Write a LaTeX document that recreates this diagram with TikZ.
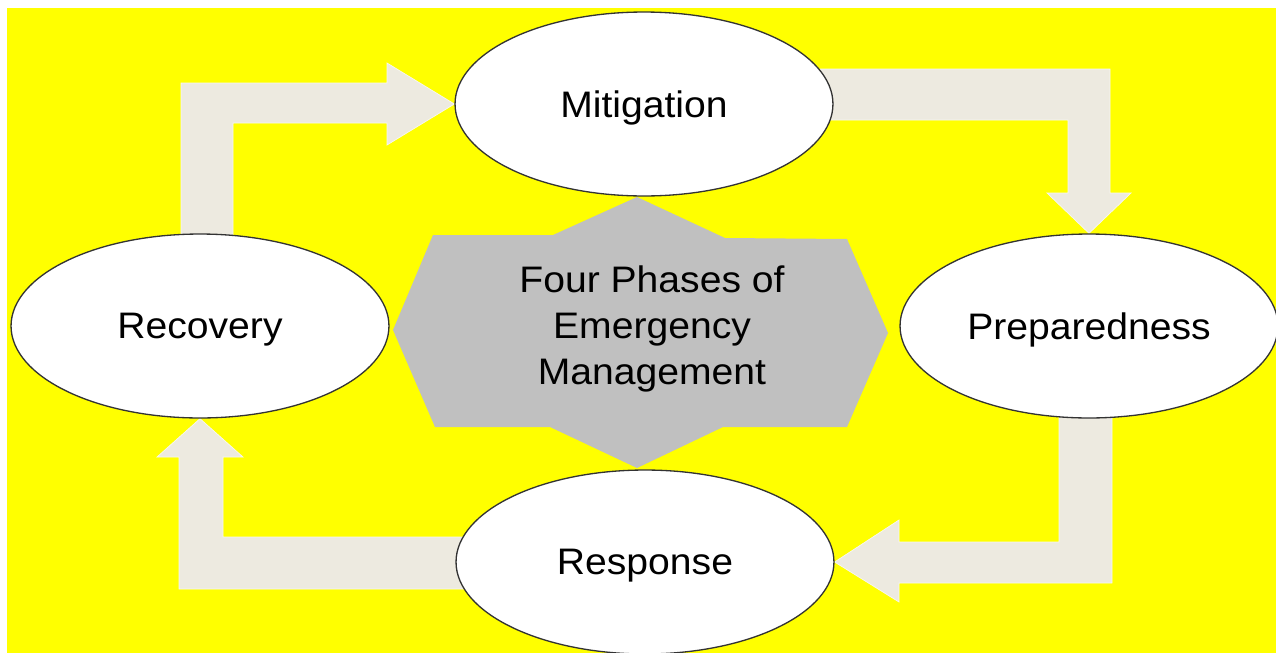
\documentclass[tikz,border=0pt]{standalone}
\usepackage{fontspec}
\setmainfont[FakeStretch=1.06]{Liberation Sans}
\usepackage{xcolor}
\usepackage{tikz}
\usetikzlibrary{shapes,shapes.geometric}
\usetikzlibrary{calc,positioning}
\definecolor{bgyellow}{RGB}{255,255,0}
\definecolor{flowgray}{RGB}{237,234,224}
\definecolor{coregray}{RGB}{192,192,192}
\pgfdeclarelayer{back}
\pgfdeclarelayer{flows}
\pgfsetlayers{back,flows,main}
\tikzset{
  phase/.style = {ellipse, draw=black!80, line width=0.75pt, fill=white, minimum width=7.56cm, minimum height=3.68cm, inner sep=0pt, text depth=0pt, font=\fontsize{21}{25}\selectfont},
  hub/.style = {align=center, inner sep=0pt, text centered, font=\fontsize{21}{26}\selectfont},
  flow/.style = {fill=flowgray, draw=flowgray!40!white, line width=0.4pt}
}

\begin{document}
\begin{tikzpicture}[x=0.02cm,y=-0.02cm]
			\useasboundingbox (0,0) rectangle (1276,653);
			\begin{pgfonlayer}{back}
				\fill[bgyellow] (7,8) rectangle (1276,653);
			\end{pgfonlayer}
			% the four phases
			\node[phase] (mit) at (644,104) {Mitigation};
			\node[phase] (prep) at (1089,326) {Preparedness};
			\node[phase] (resp) at (645,562) {Response};
			\node[phase] (rec) at (200,326) {Recovery};
			% centre
			\fill[coregray] (637,197) -- (725,238) -- (847,239) -- (888,333) -- (847,427) -- (723,427)
				-- (637,468) -- (550,427) -- (435,427) -- (393,330) -- (433,235) -- (553,235) -- cycle;
			\node[hub] (core) at (652,329) {Four Phases of\\Emergency\\Management};
			% block arrows
			\begin{pgfonlayer}{flows}
				\fill[flow] (181,240) |- (387,83) -- (387,63) -- (mit.west) -- (387,145) -- (387,123) -| (233,240) -- cycle;
				\fill[flow] (820,69) -| (1110,193) -- (1131,193) -- (prep.north) -- (1047,193) -- (1068,193) |- (820,120) -- cycle;
				\fill[flow] (1059,410) -| (1112,583) -- (899,583) -- (899,602) -- (resp.east) -- (899,520) -- (899,542) -| (1059,410) -- cycle;
				\fill[flow] (470,537) -- (470,589) -| (179,457) -- (157,457) -- (rec.south) -- (243,457) -- (223,457) |- (470,537) -- cycle;
			\end{pgfonlayer}
\end{tikzpicture}
\end{document}
